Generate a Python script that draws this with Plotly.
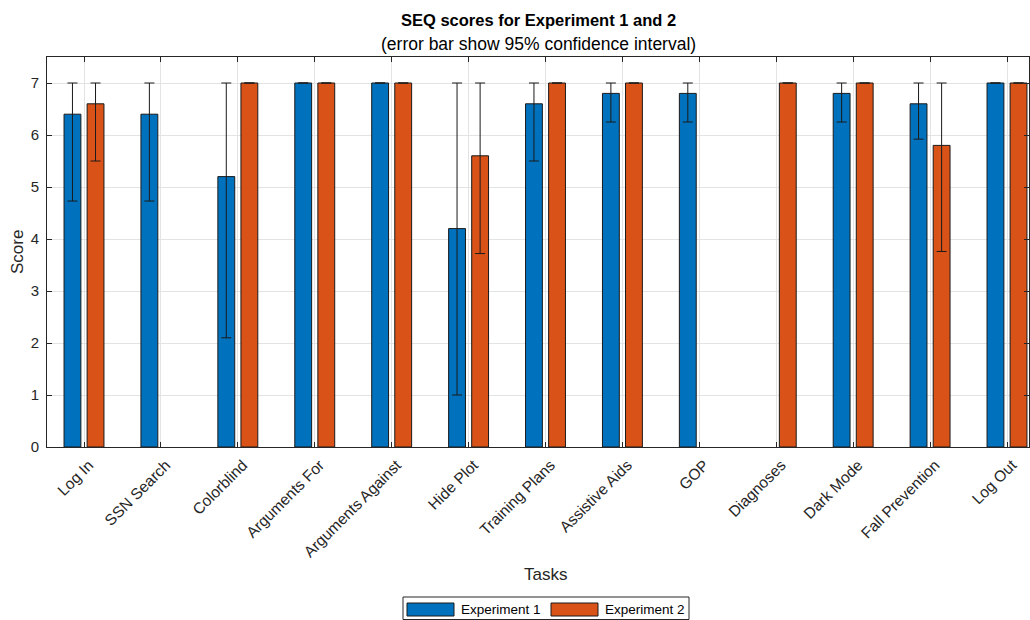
import plotly.graph_objects as go

# Task names on the x axis
tasks = ["Log In", "SSN Search", "Colorblind", "Arguments For", "Arguments Against",
         "Hide Plot", "Training Plans", "Assistive Aids", "GOP", "Diagnoses",
         "Dark Mode", "Fall Prevention", "Log Out"]

# Mean SEQ scores (None = task not run in that experiment)
exp1_mean = [6.4, 6.4, 5.2, 7.0, 7.0, 4.2, 6.6, 6.8, 6.8, None, 6.8, 6.6, 7.0]
exp2_mean = [6.6, None, 7.0, 7.0, 7.0, 5.6, 7.0, 7.0, None, 7.0, 7.0, 5.8, 7.0]

# 95% confidence interval bounds
exp1_low = [4.73, 4.73, 2.10, 7.0, 7.0, 1.0, 5.5, 6.25, 6.25, None, 6.25, 5.92, 7.0]
exp1_high = [7.0, 7.0, 7.0, 7.0, 7.0, 7.0, 7.0, 7.0, 7.0, None, 7.0, 7.0, 7.0]
exp2_low = [5.5, None, 7.0, 7.0, 7.0, 3.72, 7.0, 7.0, None, 7.0, 7.0, 3.76, 7.0]
exp2_high = [7.0, None, 7.0, 7.0, 7.0, 7.0, 7.0, 7.0, None, 7.0, 7.0, 7.0, 7.0]

y_ticks = [0, 1, 2, 3, 4, 5, 6, 7]

series_names = ["Experiment 1", "Experiment 2"]
series_colors = ["#0072BD", "#D95319"]

FONT = "Liberation Sans, Arial, Helvetica, sans-serif"
INK = "#262626"
W, H = 1030, 620
L, R, T, B = 47, 1, 57, 173
PW, PH = W - L - R, H - T - B
positions = list(range(1, len(tasks) + 1))


def px(x):
    """Pixel column -> paper x."""
    return (x - L) / PW


def py(y):
    """Pixel row -> paper y."""
    return (H - B - y) / PH


def err_parts(mean, low, high):
    """Asymmetric error lengths; zero-width intervals get no bar."""
    plus, minus = [], []
    for m, lo, hi in zip(mean, low, high):
        if m is None or (hi - m == 0 and m - lo == 0):
            plus.append(None)
            minus.append(None)
        else:
            plus.append(hi - m)
            minus.append(m - lo)
    return plus, minus


fig = go.Figure()
for name, mean, low, high, color in zip(series_names, [exp1_mean, exp2_mean],
                                        [exp1_low, exp2_low], [exp1_high, exp2_high],
                                        series_colors):
    plus, minus = err_parts(mean, low, high)
    fig.add_trace(go.Bar(
        x=positions, y=mean, name=name, showlegend=False,
        marker=dict(color=color, line=dict(color="#1a1a1a", width=1)),
        error_y=dict(type="data", symmetric=False, array=plus, arrayminus=minus,
                     color="#1a1a1a", thickness=1, width=5),
    ))

fig.update_layout(
    width=W, height=H,
    margin=dict(l=L, r=R, t=T, b=B),
    paper_bgcolor="white", plot_bgcolor="white",
    font=dict(family=FONT, color=INK, size=15),
    barmode="group", bargap=0.4, bargroupgap=0.27,
    showlegend=False,
)

fig.update_xaxes(
    range=[0.519, 13.286], tickmode="array", tickvals=positions, ticktext=tasks,
    tickangle=-45, tickfont=dict(size=15.5, color=INK),
    ticklabelstandoff=2, ticklabelshift=5,
    showgrid=True, gridcolor="#e3e3e3", gridwidth=1,
    showline=True, linecolor=INK, linewidth=1, mirror="ticks",
    ticks="inside", ticklen=5, tickcolor=INK, zeroline=False, automargin=False,
)
fig.update_yaxes(
    range=[0, 7.5], tickmode="array", tickvals=y_ticks,
    tickfont=dict(size=15, color=INK), ticklabelstandoff=4,
    showgrid=True, gridcolor="#e3e3e3", gridwidth=1,
    showline=True, linecolor=INK, linewidth=1, mirror="ticks",
    ticks="inside", ticklen=5, tickcolor=INK, zeroline=False, automargin=False,
)

# Titles and axis labels
fig.add_annotation(text="<b>SEQ scores for Experiment 1 and 2</b>", xref="paper", yref="paper",
                   x=0.5, y=py(20), xanchor="center", yanchor="middle",
                   showarrow=False, font=dict(size=16.5, color="#000000"))
fig.add_annotation(text="(error bar show 95% confidence interval)", xref="paper", yref="paper",
                   x=0.5, y=py(44), xanchor="center", yanchor="middle",
                   showarrow=False, font=dict(size=17.5, color="#000000"))
fig.add_annotation(text="Tasks", xref="paper", yref="paper",
                   x=px(545), y=py(574), xanchor="center", yanchor="middle",
                   showarrow=False, font=dict(size=17, color=INK))
fig.add_annotation(text="Score", xref="paper", yref="paper", textangle=-90,
                   x=px(17), y=0.5, xanchor="center", yanchor="middle",
                   showarrow=False, font=dict(size=17, color=INK))

# Legend box below the axes, with wide colour swatches
fig.add_shape(type="rect", xref="paper", yref="paper",
              x0=px(403), x1=px(689), y0=py(597), y1=py(619.5),
              line=dict(color=INK, width=1), fillcolor="white", layer="above")
for i, (name, color) in enumerate(zip(series_names, series_colors)):
    sx = 407 + i * 144
    fig.add_shape(type="rect", xref="paper", yref="paper",
                  x0=px(sx), x1=px(sx + 47), y0=py(603), y1=py(616),
                  line=dict(color="#1a1a1a", width=1), fillcolor=color, layer="above")
    fig.add_annotation(text=name, xref="paper", yref="paper",
                       x=px(sx + 52), y=py(609.5), xanchor="left", yanchor="middle",
                       showarrow=False, font=dict(size=13.5, color="#000000"))

fig.write_html("out.html")
